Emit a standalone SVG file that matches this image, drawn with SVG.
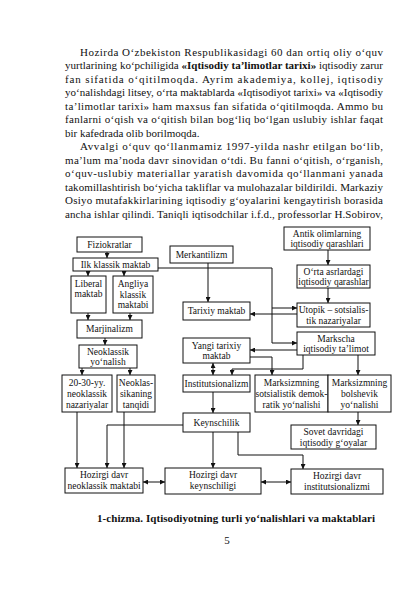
<svg xmlns="http://www.w3.org/2000/svg" width="420" height="596" viewBox="0 0 420 596">
<style>
.p{font-family:"Liberation Serif","Times New Roman",serif;font-size:11px;fill:#111}
.b{font-weight:bold}
.t{font-family:"Liberation Serif","Times New Roman",serif;font-size:9.5px;fill:#111;text-anchor:middle}
.box{fill:#fff;stroke:#111;stroke-width:1}
.c{fill:none;stroke:#111;stroke-width:1}
.cap{font-family:"Liberation Serif","Times New Roman",serif;font-size:11px;font-weight:bold;fill:#111}
</style>
<defs>
<marker id="ah" viewBox="0 0 8 8" refX="8" refY="4" markerWidth="5" markerHeight="5" markerUnits="userSpaceOnUse" orient="auto-start-reverse"><path d="M0,0 L8,4 L0,8 z" fill="#111"/></marker>
</defs>
<rect width="420" height="596" fill="#fff"/>
<g id="text">
<text class="p" x="80" y="55.5" textLength="303" lengthAdjust="spacing">Hozirda O‘zbekiston Respublikasidagi 60 dan ortiq oliy o‘quv</text>
<text class="p" x="65" y="69" textLength="318" lengthAdjust="spacing">yurtlarining ko‘pchiligida <tspan class="b">«Iqtisodiy ta’limotlar tarixi»</tspan> iqtisodiy zarur</text>
<text class="p" x="65" y="82.5" textLength="318" lengthAdjust="spacing">fan sifatida o‘qitilmoqda. Ayrim akademiya, kollej, iqtisodiy</text>
<text class="p" x="65" y="96" textLength="318" lengthAdjust="spacing">yo‘nalishdagi litsey, o‘rta maktablarda «Iqtisodiyot tarixi» va «Iqtisodiy</text>
<text class="p" x="65" y="109.5" textLength="318" lengthAdjust="spacing">ta’limotlar tarixi» ham maxsus fan sifatida o‘qitilmoqda. Ammo bu</text>
<text class="p" x="65" y="123" textLength="318" lengthAdjust="spacing">fanlarni o‘qish va o‘qitish bilan bog‘liq bo‘lgan uslubiy ishlar faqat</text>
<text class="p" x="65" y="136.5">bir kafedrada olib borilmoqda.</text>
<text class="p" x="80" y="150" textLength="303" lengthAdjust="spacing">Avvalgi o‘quv qo‘llanmamiz 1997-yilda nashr etilgan bo‘lib,</text>
<text class="p" x="65" y="163.5" textLength="318" lengthAdjust="spacing">ma’lum ma’noda davr sinovidan o‘tdi. Bu fanni o‘qitish, o‘rganish,</text>
<text class="p" x="65" y="177" textLength="318" lengthAdjust="spacing">o‘quv-uslubiy materiallar yaratish davomida qo‘llanmani yanada</text>
<text class="p" x="65" y="190.5" textLength="318" lengthAdjust="spacing">takomillashtirish bo‘yicha takliflar va mulohazalar bildirildi. Markaziy</text>
<text class="p" x="65" y="204" textLength="318" lengthAdjust="spacing">Osiyo mutafakkirlarining iqtisodiy g‘oyalarini kengaytirish borasida</text>
<text class="p" x="65" y="217.5" textLength="318" lengthAdjust="spacing">ancha ishlar qilindi. Taniqli iqtisodchilar i.f.d., professorlar H.Sobirov,</text>
</g>
<g id="connectors">
<path class="c" d="M107,252 V258" marker-end="url(#ah)"/>
<path class="c" d="M88,271 V276" marker-end="url(#ah)"/>
<path class="c" d="M124,271 V276" marker-end="url(#ah)"/>
<path class="c" d="M88,313 V320" marker-end="url(#ah)"/>
<path class="c" d="M130,313 V320" marker-end="url(#ah)"/>
<path class="c" d="M105,338 V345" marker-end="url(#ah)"/>
<path class="c" d="M82,368 V375" marker-end="url(#ah)"/>
<path class="c" d="M130,368 V375" marker-end="url(#ah)"/>
<path class="c" d="M158,268 H272 V343 H297" marker-end="url(#ah)"/>
<path class="c" d="M272,308 H297" marker-end="url(#ah)"/>
<path class="c" d="M208,263 V302" marker-end="url(#ah)"/>
<path class="c" d="M297,314 H250" marker-end="url(#ah)"/>
<path class="c" d="M328,250 V265" marker-end="url(#ah)"/>
<path class="c" d="M328,288 V303" marker-end="url(#ah)"/>
<path class="c" d="M297,350 H250" marker-end="url(#ah)"/>
<path class="c" d="M250,357 H272 V375" marker-end="url(#ah)"/>
<path class="c" d="M303,355 V369 H232 V375" marker-end="url(#ah)"/>
<path class="c" d="M358,355 V375" marker-end="url(#ah)"/>
<path class="c" d="M213,363 V375" marker-start="url(#ah)" marker-end="url(#ah)"/>
<path class="c" d="M213,392 V413" marker-end="url(#ah)"/>
<path class="c" d="M358,412 V425" marker-end="url(#ah)"/>
<path class="c" d="M77,412 V468" marker-end="url(#ah)"/>
<path class="c" d="M124,412 V468" marker-end="url(#ah)"/>
<path class="c" d="M183,425 H107 V468" marker-end="url(#ah)"/>
<path class="c" d="M213,432 V468" marker-end="url(#ah)"/>
<path class="c" d="M238,432 V455 H303 V469" marker-end="url(#ah)"/>
<path class="c" d="M143,482 H165" marker-start="url(#ah)" marker-end="url(#ah)"/>
<path class="c" d="M261,482 H291" marker-start="url(#ah)" marker-end="url(#ah)"/>
</g>
<g id="fiziokratlar"><rect class="box" x="77" y="237" width="65" height="15"/><text class="t" x="109.5" y="247.5">Fiziokratlar</text></g>
<g id="merkantilizm"><rect class="box" x="170" y="246" width="63" height="17"/><text class="t" x="201.5" y="257.5">Merkantilizm</text></g>
<g id="antik"><rect class="box" x="284" y="227" width="86" height="23"/><text class="t" x="327" y="237">Antik olimlarning</text><text class="t" x="327" y="247">iqtisodiy qarashlari</text></g>
<g id="ilk"><rect class="box" x="73" y="258" width="85" height="13"/><text class="t" x="115.5" y="267.5">Ilk klassik maktab</text></g>
<g id="orta"><rect class="box" x="297" y="265" width="73" height="23"/><text class="t" x="333.5" y="275">O‘rta asrlardagi</text><text class="t" x="333.5" y="285">iqtisodiy qarashlar</text></g>
<g id="liberal"><rect class="box" x="71" y="276" width="35" height="37"/><text class="t" x="88.5" y="287">Liberal</text><text class="t" x="88.5" y="297">maktab</text></g>
<g id="angliya"><rect class="box" x="113" y="276" width="40" height="37"/><text class="t" x="133" y="287">Angliya</text><text class="t" x="133" y="297.5">klassik</text><text class="t" x="133" y="308">maktabi</text></g>
<g id="tarixiy"><rect class="box" x="183" y="302" width="67" height="18"/><text class="t" x="216.5" y="314">Tarixiy maktab</text></g>
<g id="utopik"><rect class="box" x="297" y="303" width="73" height="24"/><text class="t" x="333.5" y="313">Utopik – sotsialis-</text><text class="t" x="333.5" y="324">tik nazariyalar</text></g>
<g id="marjinalizm"><rect class="box" x="77" y="320" width="65" height="18"/><text class="t" x="109.5" y="332">Marjinalizm</text></g>
<g id="markscha"><rect class="box" x="297" y="332" width="78" height="23"/><text class="t" x="336" y="342">Markscha</text><text class="t" x="336" y="352">iqtisodiy ta’limot</text></g>
<g id="yangi"><rect class="box" x="183" y="338" width="67" height="25"/><text class="t" x="216.5" y="349">Yangi tarixiy</text><text class="t" x="216.5" y="359">maktab</text></g>
<g id="neoklassik"><rect class="box" x="79" y="345" width="58" height="23"/><text class="t" x="108" y="355">Neoklassik</text><text class="t" x="108" y="365">yo‘nalish</text></g>
<g id="yy2030"><rect class="box" x="62" y="375" width="50" height="37"/><text class="t" x="87" y="386">20-30-yy.</text><text class="t" x="87" y="397">neoklassik</text><text class="t" x="87" y="408">nazariyalar</text></g>
<g id="neotanqid"><rect class="box" x="117" y="375" width="38" height="37"/><text class="t" x="136" y="386">Neoklas-</text><text class="t" x="136" y="397">sikaning</text><text class="t" x="136" y="408">tanqidi</text></g>
<g id="institutsionalizm"><rect class="box" x="183" y="375" width="67" height="17"/><text class="t" x="216.5" y="386.5">Institutsionalizm</text></g>
<g id="marksots"><rect class="box" x="255" y="375" width="73" height="37"/><text class="t" x="291.5" y="386">Marksizmning</text><text class="t" x="291.5" y="397">sotsialistik demok-</text><text class="t" x="291.5" y="408">ratik yo‘nalishi</text></g>
<g id="marksbol"><rect class="box" x="328" y="375" width="63" height="37"/><text class="t" x="359.5" y="386">Marksizmning</text><text class="t" x="359.5" y="397">bolshevik</text><text class="t" x="359.5" y="408">yo‘nalishi</text></g>
<g id="keynschilik"><rect class="box" x="183" y="413" width="67" height="19"/><text class="t" x="216.5" y="425.5">Keynschilik</text></g>
<g id="sovet"><rect class="box" x="291" y="425" width="85" height="24"/><text class="t" x="333.5" y="435">Sovet davridagi</text><text class="t" x="333.5" y="446">iqtisodiy g‘oyalar</text></g>
<g id="hoz1"><rect class="box" x="65" y="468" width="78" height="25"/><text class="t" x="104" y="478">Hozirgi davr</text><text class="t" x="104" y="489">neoklassik maktabi</text></g>
<g id="hoz2"><rect class="box" x="165" y="468" width="96" height="26"/><text class="t" x="213" y="478">Hozirgi davr</text><text class="t" x="213" y="489">keynschiligi</text></g>
<g id="hoz3"><rect class="box" x="291" y="469" width="92" height="25"/><text class="t" x="337" y="479">Hozirgi davr</text><text class="t" x="337" y="490">institutsionalizmi</text></g>
<g id="caption">
<text class="cap" x="97" y="522" textLength="278" lengthAdjust="spacing">1-chizma. Iqtisodiyotning turli yo‘nalishlari va maktablari</text>
<text class="p" x="227" y="544" text-anchor="middle">5</text>
</g>
</svg>
